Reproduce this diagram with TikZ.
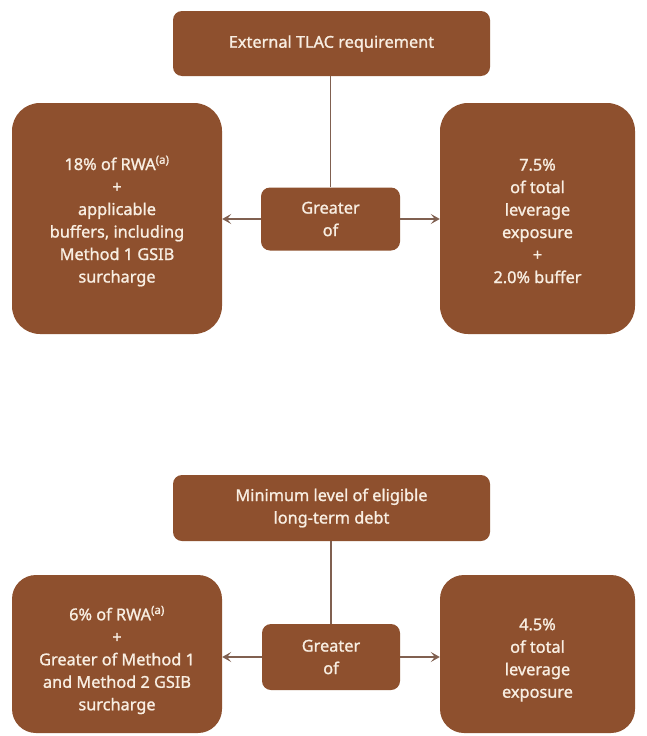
\documentclass[tikz,border=0pt]{standalone}
\usepackage{fontspec}
\setmainfont{Noto Sans}[FakeBold=1.2]
\usetikzlibrary{arrows.meta}
\definecolor{boxbrown}{RGB}{142,80,46}
\definecolor{boxtext}{RGB}{248,238,226}
\definecolor{linebrown}{RGB}{128,96,80}
\begin{document}
\begin{tikzpicture}[x=1pt,y=-1pt,
  box/.style={fill=boxbrown, draw=none, text=boxtext, align=center, inner sep=0pt,
    font=\fontsize{16.3}{22.5}\selectfont},
  smallbox/.style={box, rounded corners=9pt},
  bigbox/.style={box, rounded corners=28pt},
  txt/.style={text=boxtext, align=center, inner sep=0pt, font=\fontsize{16.3}{22.5}\selectfont},
  conn/.style={draw=linebrown, line width=1.1pt},
  arr/.style={conn, -{Stealth[length=9pt,width=10pt,inset=4pt]}}
]
\useasboundingbox (0,0) rectangle (647,736);
\fill[white] (0,0) rectangle (647,736);

% ---------- top diagram ----------
\node[smallbox, minimum width=317pt, minimum height=65pt] (t1) at (331.5,43.5) {External TLAC requirement};
\node[bigbox, minimum width=210pt, minimum height=231pt] (l1) at (117,218.5) {};
\node[txt] (l1t) at (117,221) {18\% of RWA\textsuperscript{(a)}\\+\\applicable\\buffers, including\\Method 1 GSIB\\surcharge};
\node[bigbox, minimum width=195pt, minimum height=231pt] (r1) at (537.5,218.5) {};
\node[txt] (r1t) at (537.5,221) {7.5\%\\of total\\leverage\\exposure\\+\\2.0\% buffer};
\node[smallbox, minimum width=139pt, minimum height=63pt] (g1) at (330.5,219) {Greater\\of};
\draw[conn] (t1.south -| g1.north) -- (g1.north);
\draw[arr] (g1.west) -- (l1.east |- g1.west);
\draw[arr] (g1.east) -- (r1.west |- g1.east);

% ---------- bottom diagram ----------
\node[smallbox, minimum width=317pt, minimum height=66pt] (t2) at (331.5,508) {Minimum level of eligible\\long-term debt};
\node[bigbox, minimum width=210pt, minimum height=158pt, rounded corners=24pt] (l2) at (117,654) {};
\node[txt] (l2t) at (117,660) {6\% of RWA\textsuperscript{(a)}\\+\\Greater of Method 1\\and Method 2 GSIB\\surcharge};
\node[bigbox, minimum width=195pt, minimum height=158pt, rounded corners=24pt] (r2) at (537.5,654) {};
\node[txt] (r2t) at (537.5,660) {4.5\%\\of total\\leverage\\exposure};
\node[smallbox, minimum width=138pt, minimum height=66pt] (g2) at (331,657) {Greater\\of};
\draw[conn] (t2.south -| g2.north) -- (g2.north);
\draw[arr] (g2.west) -- (l2.east |- g2.west);
\draw[arr] (g2.east) -- (r2.west |- g2.east);
\end{tikzpicture}
\end{document}
